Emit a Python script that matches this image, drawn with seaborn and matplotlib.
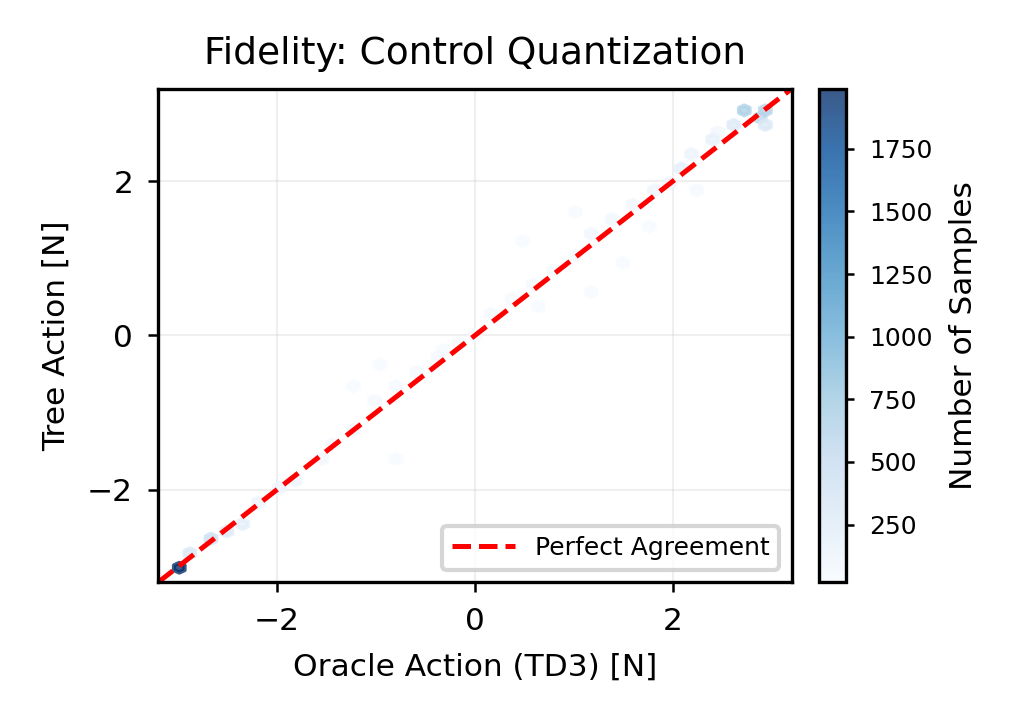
import numpy as np
import matplotlib
matplotlib.use("Agg")
import matplotlib.pyplot as plt
import seaborn as sns

# hex cell centres (oracle, tree) and sample counts
oracle_x = [-3.0, -2.85, -2.65, -2.5, -2.35, -2.2, -2.0, -1.8, -1.6, -1.4, -1.2, -1.0, -0.8,
            -0.6, -0.4, -0.2, 0.0, 0.2, 0.4, 0.6, 0.8, 1.0, 1.2, 1.4, 1.6, 1.8, 2.0, 2.05,
            2.2, 2.4, 2.6, 2.75, 2.85, 2.95, 2.95,
            -1.0, -0.8, -1.2, 0.6, 1.0, 1.5, 1.8, 2.2, 0.5, -0.3, 1.2, 2.5]
tree_y = [-3.0, -2.85, -2.65, -2.5, -2.4, -2.2, -2.0, -1.85, -1.6, -1.4, -1.2, -0.9, -0.7,
          -0.5, -0.3, -0.1, 0.05, 0.3, 0.5, 0.7, 0.9, 1.05, 1.3, 1.5, 1.7, 1.85, 2.0, 2.15,
          2.3, 2.5, 2.75, 2.9, 2.85, 2.9, 2.75,
          -0.4, -1.6, -0.7, 0.4, 1.6, 1.0, 1.4, 1.9, 1.2, -0.2, 0.6, 2.6]
counts = [1990, 300, 420, 250, 200, 120, 110, 90, 70, 60, 60, 50, 40,
          40, 40, 40, 40, 40, 40, 40, 40, 50, 60, 70, 80, 90, 110, 180,
          120, 160, 250, 650, 550, 600, 300,
          25, 25, 25, 20, 25, 20, 25, 30, 20, 20, 20, 60]

sns.set_style("ticks")
plt.rcParams["text.color"] = "black"
plt.rcParams["axes.labelcolor"] = "black"
plt.rcParams["xtick.color"] = "black"
plt.rcParams["ytick.color"] = "black"
plt.rcParams["axes.edgecolor"] = "black"
plt.rcParams["font.family"] = ["DejaVu Sans"]

fig = plt.figure(figsize=(3.4233, 2.42), dpi=300)
ax = fig.add_axes([0.154, 0.198, 0.617, 0.680])
cax = fig.add_axes([0.797, 0.198, 0.027, 0.680])
hb = ax.hexbin(oracle_x, tree_y, C=counts, reduce_C_function=np.sum, gridsize=60,
               extent=(-3.2, 3.2, -3.2, 3.2), cmap="Blues", alpha=0.8, mincnt=1)
ax.plot([-3.2, 3.2], [-3.2, 3.2], "r--", lw=1.2, label="Perfect Agreement")
ax.set_xlim(-3.2, 3.2)
ax.set_ylim(-3.2, 3.2)
ax.grid(True, alpha=0.3, lw=0.5)
ax.set_xticks([-2, 0, 2])
ax.set_yticks([-2, 0, 2])
ax.tick_params(labelsize=7.5, length=2.5, width=0.6)
for s in ax.spines.values():
    s.set_linewidth(0.8)
ax.set_title("Fidelity: Control Quantization", fontsize=9)
ax.set_xlabel("Oracle Action (TD3) [N]", fontsize=7.5)
ax.set_ylabel("Tree Action [N]", fontsize=7.5)
ax.legend(loc="lower right", fontsize=6, handlelength=2.5)
cb = fig.colorbar(hb, cax=cax, ticks=[250, 500, 750, 1000, 1250, 1500, 1750])
cb.set_label("Number of Samples", fontsize=7.5)
cb.ax.tick_params(labelsize=6, length=2, width=0.6)
cb.outline.set_linewidth(0.8)
fig.savefig("out.png", dpi=300)
